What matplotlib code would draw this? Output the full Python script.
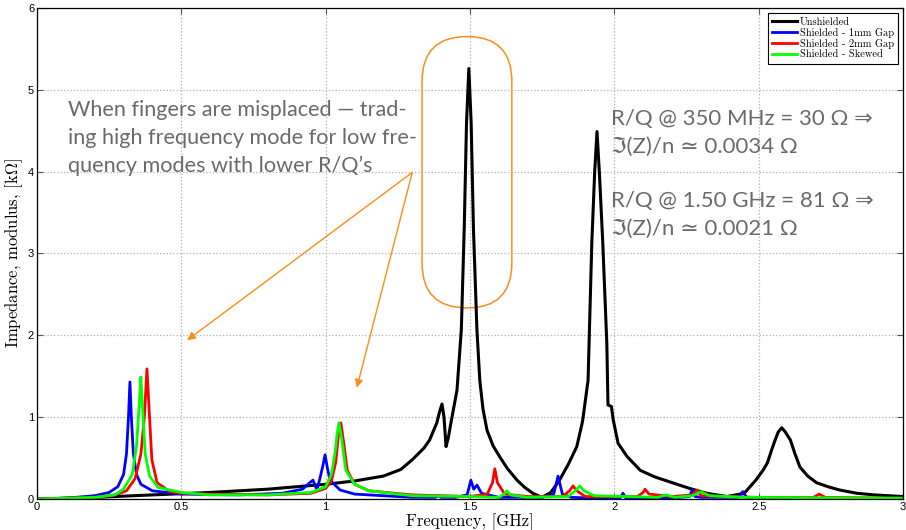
import matplotlib
matplotlib.use("Agg")
import matplotlib.pyplot as plt
from matplotlib.patches import FancyBboxPatch

plt.rcParams['mathtext.fontset'] = 'cm'

# Unshielded (black)
unshielded_f = [0, 0.2, 0.4, 0.6, 0.8, 1.0, 1.1, 1.2, 1.26, 1.3, 1.34, 1.36, 1.385, 1.395, 1.403,
                1.41, 1.417, 1.425, 1.435, 1.455, 1.47, 1.48, 1.488, 1.496, 1.504, 1.512, 1.524,
                1.534, 1.545, 1.559, 1.58, 1.604, 1.63, 1.663, 1.69, 1.718, 1.749, 1.78, 1.81,
                1.84, 1.87, 1.89, 1.909, 1.922, 1.932, 1.94, 1.948, 1.96, 1.974, 1.978, 1.99,
                1.996, 2.013, 2.044, 2.09, 2.14, 2.2, 2.26, 2.32, 2.39, 2.45, 2.49, 2.515, 2.53,
                2.545, 2.557, 2.568, 2.58, 2.592, 2.61, 2.625, 2.643, 2.67, 2.70, 2.74, 2.78,
                2.84, 2.90, 3.0]
unshielded_z = [0, 0.02, 0.05, 0.08, 0.12, 0.18, 0.22, 0.28, 0.36, 0.48, 0.62, 0.72, 0.93, 1.07, 1.16,
                1.0, 0.64, 0.75, 0.95, 1.33, 2.07, 3.3, 4.6, 5.26, 4.6, 3.3, 2.07,
                1.45, 1.1, 0.84, 0.65, 0.51, 0.37, 0.23, 0.14, 0.07, 0.02, 0.08, 0.23,
                0.42, 0.64, 0.95, 1.45, 3.13, 4.0, 4.49, 4.0, 3.13, 1.9, 1.15, 1.13,
                0.97, 0.68, 0.52, 0.35, 0.27, 0.2, 0.13, 0.07, 0.03, 0.07, 0.23, 0.35, 0.44,
                0.6, 0.72, 0.82, 0.87, 0.82, 0.72, 0.56, 0.39, 0.28, 0.2, 0.15, 0.11,
                0.07, 0.05, 0.03]

# Shielded - 1mm gap (blue)
gap1_f = [0, 0.1, 0.2, 0.25, 0.28, 0.30, 0.31, 0.317, 0.322, 0.327, 0.334, 0.345, 0.36, 0.40,
          0.5, 0.7, 0.85, 0.92, 0.945, 0.956, 0.97, 0.98, 0.99, 0.998, 1.006, 1.015, 1.05,
          1.1, 1.2, 1.3, 1.38, 1.39, 1.40, 1.45, 1.49, 1.503, 1.513, 1.524, 1.54, 1.6, 1.75,
          1.79, 1.805, 1.82, 1.85, 1.95, 2.02, 2.03, 2.04, 2.2, 2.26, 2.27, 2.28, 2.3, 2.43,
          2.445, 2.46, 2.55, 3.0]
gap1_z = [0, 0.01, 0.04, 0.08, 0.15, 0.3, 0.55, 1.0, 1.43, 1.0, 0.55, 0.3, 0.18, 0.1,
          0.06, 0.05, 0.07, 0.12, 0.2, 0.23, 0.11, 0.25, 0.4, 0.54, 0.38, 0.23, 0.11,
          0.06, 0.04, 0.02, 0.02, 0.04, 0.02, 0.02, 0.05, 0.23, 0.12, 0.17, 0.07, 0.02, 0.02,
          0.06, 0.28, 0.06, 0.02, 0.01, 0.01, 0.07, 0.01, 0.01, 0.03, 0.11, 0.03, 0.02, 0.02,
          0.09, 0.01, 0.005, 0.0]

# Shielded - 2mm gap (red)
gap2_f = [0, 0.1, 0.2, 0.27, 0.31, 0.34, 0.36, 0.372, 0.381, 0.39, 0.398, 0.416, 0.46, 0.5,
          0.6, 0.8, 0.95, 1.0, 1.02, 1.035, 1.045, 1.053, 1.062, 1.075, 1.1, 1.15, 1.3, 1.5,
          1.56, 1.578, 1.586, 1.595, 1.62, 1.7, 1.82, 1.845, 1.857, 1.87, 1.9, 2.08, 2.1,
          2.106, 2.12, 2.2, 2.27, 2.286, 2.3, 2.5, 2.69, 2.71, 2.73, 3.0]
gap2_z = [0, 0.01, 0.02, 0.05, 0.1, 0.25, 0.55, 1.0, 1.59, 1.0, 0.48, 0.2, 0.09, 0.07,
          0.06, 0.05, 0.07, 0.13, 0.22, 0.45, 0.8, 0.93, 0.7, 0.35, 0.18, 0.1, 0.05, 0.03,
          0.06, 0.2, 0.37, 0.2, 0.06, 0.03, 0.03, 0.1, 0.16, 0.1, 0.03, 0.03, 0.08,
          0.12, 0.06, 0.03, 0.05, 0.11, 0.04, 0.02, 0.02, 0.06, 0.02, 0.01]

# Shielded - skewed (green)
skew_f = [0, 0.1, 0.2, 0.27, 0.30, 0.33, 0.345, 0.355, 0.36, 0.366, 0.375, 0.39, 0.42, 0.5,
          0.6, 0.8, 0.95, 1.0, 1.02, 1.032, 1.04, 1.046, 1.055, 1.07, 1.1, 1.15, 1.3, 1.5,
          1.6, 1.618, 1.628, 1.64, 1.7, 1.84, 1.865, 1.88, 1.895, 1.93, 2.15, 2.18, 2.21,
          2.27, 2.3, 2.33, 2.45, 3.0]
skew_z = [0, 0.01, 0.02, 0.05, 0.12, 0.3, 0.65, 1.2, 1.49, 1.1, 0.55, 0.28, 0.14, 0.08,
          0.05, 0.05, 0.08, 0.15, 0.3, 0.55, 0.8, 0.93, 0.75, 0.35, 0.18, 0.1, 0.04, 0.03,
          0.02, 0.06, 0.1, 0.05, 0.02, 0.03, 0.1, 0.16, 0.1, 0.04, 0.02, 0.05, 0.02,
          0.04, 0.09, 0.04, 0.02, 0.01]

labels = ['Unshielded', 'Shielded - 1mm Gap', 'Shielded - 2mm Gap', 'Shielded - Skewed']

fig = plt.figure(figsize=(9.06, 5.30), dpi=100)
ax = fig.add_axes([0.0408, 0.0585, 0.9559, 0.9265])

ax.plot(unshielded_f, unshielded_z, color='black', lw=2.2, label=labels[0])
ax.plot(gap1_f, gap1_z, color='blue', lw=2, label=labels[1])
ax.plot(gap2_f, gap2_z, color='red', lw=2, label=labels[2])
ax.plot(skew_f, skew_z, color='#00ff00', lw=2, label=labels[3])

ax.set_xlim(0, 3)
ax.set_ylim(0, 6)
ax.set_xticks([0, 0.5, 1, 1.5, 2, 2.5, 3])
ax.set_xticklabels(['0', '0.5', '1', '1.5', '2', '2.5', '3'])
ax.set_yticks(range(7))
ax.tick_params(direction='in', length=4, labelsize=8, color='#555555', pad=2,
               top=True, right=True)
for lab in ax.get_xticklabels() + ax.get_yticklabels():
    lab.set_family('Liberation Sans')
ax.grid(True, linestyle=':', color='#b0b0b0', lw=0.9)
for s in ax.spines.values():
    s.set_linewidth(0.9)

ax.set_xlabel('Frequency, [GHz]', family='cmr10', fontsize=12, labelpad=1)
ax.set_ylabel(r'Impedance, modulus, [k$\Omega$]', family='cmr10', fontsize=12)
ax.yaxis.set_label_coords(-0.0135, 0.5)

leg = ax.legend(loc='upper right', handlelength=2.4, handletextpad=0.2,
                borderpad=0.4, labelspacing=0.1, fancybox=False, framealpha=1,
                edgecolor='black', prop={'family': 'cmr10', 'size': 7.5})
leg.get_frame().set_linewidth(0.8)

orange = '#ff8c1a'
box = FancyBboxPatch((1.334, 2.335), 1.645 - 1.334, 5.65 - 2.335,
                     boxstyle='round,pad=0,rounding_size=0.155',
                     mutation_aspect=288.7 / 81.8,
                     fill=False, edgecolor=orange, lw=1.1)
ax.add_patch(box)

for tgt in [(0.52, 1.94), (1.108, 1.36)]:
    ax.annotate('', xy=tgt, xytext=(1.30, 3.99),
                arrowprops=dict(arrowstyle='-|>', color=orange, lw=1,
                                shrinkA=0, shrinkB=0, mutation_scale=12))

grey = '#6a6a6a'
txt_font = ['Lato', 'DejaVu Sans']
ax.text(0.108, 4.87, 'When fingers are misplaced \u2014 trad-\ning high frequency mode for low fre-\nquency modes with lower R/Q\u2019s',
        family=txt_font, fontsize=15.6, color=grey, va='top', linespacing=1.46)
ax.text(1.99, 4.76, 'R/Q @ 350 MHz = 30 \u03a9 \u21d2\n\u2111(Z)/n \u2243 0.0034 \u03a9',
        family=txt_font, fontsize=16, color=grey, va='top', linespacing=1.45)
ax.text(1.99, 3.76, 'R/Q @ 1.50 GHz = 81 \u03a9 \u21d2\n\u2111(Z)/n \u2243 0.0021 \u03a9',
        family=txt_font, fontsize=16, color=grey, va='top', linespacing=1.45)

fig.savefig('out.png', dpi=100)
